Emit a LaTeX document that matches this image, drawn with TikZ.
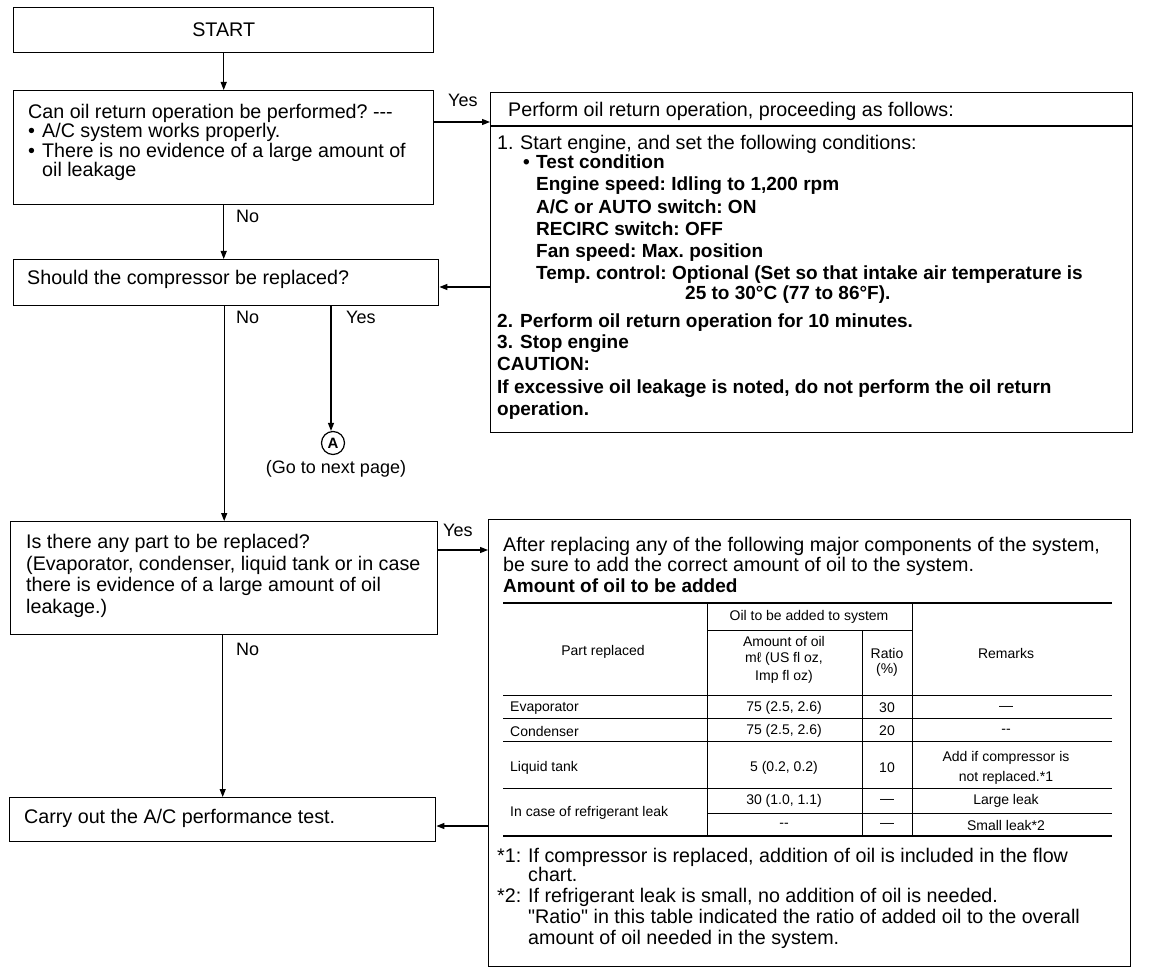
\documentclass[tikz,border=0pt]{standalone}
\usepackage{fontspec}
\setmainfont{Liberation Sans}[Ligatures=TeXOff]
\usetikzlibrary{arrows.meta}
\frenchspacing
\begin{document}
\begin{tikzpicture}[x=1pt,y=-1pt,
  box/.style={draw, line width=1.4pt, inner sep=0pt, anchor=north west},
  tx/.style={anchor=base west, inner sep=0pt, font=\fontsize{19.7}{21}\selectfont},
  tb/.style={anchor=base west, inner sep=0pt, font=\fontsize{19}{21}\selectfont\bfseries},
  tc/.style={anchor=center, inner sep=0pt, font=\fontsize{14}{16}\selectfont},
  tl/.style={anchor=west, inner sep=0pt, font=\fontsize{14}{16}\selectfont},
  lbl/.style={anchor=base west, inner sep=0pt, font=\fontsize{18}{20}\selectfont},
  arr/.style={line width=1.2pt, -{Triangle[length=8pt,width=6pt]}},
  thinrule/.style={line width=0.9pt},
  heavyrule/.style={line width=2.6pt}
]
\fill[white] (0,0) rectangle (1152,976);
\useasboundingbox (0,0) rectangle (1152,976);

% ---------- left column boxes ----------
\node[box, minimum width=420pt, minimum height=45pt] (start) at (13,7) {};
\node[inner sep=0pt, font=\fontsize{19.7}{21}\selectfont] (starttx) at (start.center) {START};

\node[box, minimum width=420pt, minimum height=114pt] (q1) at (13,90) {};
\node[tx] (q1a) at (28,119) {Can oil return operation be performed? ---};
\node[tx] (q1b) at (28,138) {\textbullet};
\node[tx] (q1c) at (42,138) {A/C system works properly.};
\node[tx] (q1d) at (28,158) {\textbullet};
\node[tx] (q1e) at (42,158) {There is no evidence of a large amount of};
\node[tx] (q1f) at (42,177) {oil leakage};

\node[box, minimum width=425pt, minimum height=46pt] (q2) at (13,259) {};
\node[tx] (q2a) at (27,285) {Should the compressor be replaced?};

\node[box, minimum width=427pt, minimum height=113pt] (q3) at (10,521) {};
\node[tx] (q3a) at (26,548) {Is there any part to be replaced?};
\node[tx] (q3b) at (26,570) {(Evaporator, condenser, liquid tank or in case};
\node[tx] (q3c) at (26,591) {there is evidence of a large amount of oil};
\node[tx] (q3d) at (26,613) {leakage.)};

\node[box, minimum width=426pt, minimum height=44pt] (q4) at (9,797) {};
\node[tx] (q4a) at (24,823) {Carry out the A/C performance test.};

\node[draw, circle, line width=1.2pt, minimum size=23pt, inner sep=0pt,
      font=\fontsize{15}{16}\selectfont\bfseries] (acirc) at (333,443) {A};
\node[lbl, anchor=base] (goto) at (336,473) {(Go to next page)};

% ---------- right box 1 ----------
\node[box, minimum width=642pt, minimum height=340pt] (box1) at (490,92) {};
\coordinate (sep1) at (490,126);
\draw[line width=1.2pt] (sep1) -- (sep1 -| box1.east);
\node[tx] (b1h) at (508,117) {Perform oil return operation, proceeding as follows:};
\node[tx] (b1a) at (497,150) {1.};
\node[tx] (b1b) at (520,150) {Start engine, and set the following conditions:};
\node[tb] (b1c) at (523,169) {\textbullet};
\node[tb] (b1d) at (536,169) {Test condition};
\node[tb] (b1e) at (536,191) {Engine speed: Idling to 1,200 rpm};
\node[tb] (b1f) at (536,214) {A/C or AUTO switch: ON};
\node[tb] (b1g) at (536,236) {RECIRC switch: OFF};
\node[tb] (b1h2) at (536,258) {Fan speed: Max. position};
\node[tb] (b1i) at (536,280) {Temp. control: Optional (Set so that intake air temperature is};
\node[tb] (b1j) at (685,300) {25 to 30°C (77 to 86°F).};
\node[tb] (b1k) at (497,328) {2.};
\node[tb] (b1l) at (520,328) {Perform oil return operation for 10 minutes.};
\node[tb] (b1m) at (497,349) {3.};
\node[tb] (b1n) at (520,349) {Stop engine};
\node[tb] (b1o) at (497,371) {CAUTION:};
\node[tb] (b1p) at (497,394) {If excessive oil leakage is noted, do not perform the oil return};
\node[tb] (b1q) at (497,416) {operation.};

% ---------- right box 2 ----------
\node[box, minimum width=642pt, minimum height=447pt] (box2) at (488,519) {};
\node[tx] (b2a) at (503,551) {After replacing any of the following major components of the system,};
\node[tx] (b2b) at (503,571) {be sure to add the correct amount of oil to the system.};
\node[tb] (b2c) at (503,592) {Amount of oil to be added};

% table rules
\draw[heavyrule] (503,603) -- (1112,603);
\draw[heavyrule] (503,836) -- (1112,836);
\draw[thinrule] (503,695) -- (1112,695);
\draw[thinrule] (503,718) -- (1112,718);
\draw[thinrule] (503,741) -- (1112,741);
\draw[thinrule] (503,788) -- (1112,788);
\draw[thinrule] (707,813) -- (1112,813);
\draw[thinrule] (707,630) -- (912,630);
\draw[thinrule] (707,603) -- (707,836);
\draw[thinrule] (912,603) -- (912,836);
\draw[thinrule] (862,630) -- (862,836);

% table text
\node[tc] (th1) at (809,617) {Oil to be added to system};
\node[tc] (th2) at (603,652) {Part replaced};
\node[tc] (th3) at (784,641) {Amount of oil};
\node[tc] (th4) at (784,659) {mℓ (US fl oz,};
\node[tc] (th5) at (784,677) {Imp fl oz)};
\node[tc] (th6) at (887,653) {Ratio};
\node[tc] (th7) at (887,670) {(\%)};
\node[tc] (th8) at (1006,653) {Remarks};

\node[tl] (r1a) at (510,708) {Evaporator};
\node[tc] (r1b) at (784,708) {75 (2.5, 2.6)};
\node[tc] (r1c) at (887,708) {30};
\node[tc] (r1d) at (1006,708) {—};

\node[tl] (r2a) at (510,731) {Condenser};
\node[tc] (r2b) at (784,731) {75 (2.5, 2.6)};
\node[tc] (r2c) at (887,731) {20};
\node[tc] (r2d) at (1006,731) {--};

\node[tl] (r3a) at (510,768) {Liquid tank};
\node[tc] (r3b) at (784,768) {5 (0.2, 0.2)};
\node[tc] (r3c) at (887,768) {10};
\node[tc] (r3d) at (1006,758) {Add if compressor is};
\node[tc] (r3e) at (1006,778) {not replaced.*1};

\node[tl] (r4a) at (510,813) {In case of refrigerant leak};
\node[tc] (r4b) at (784,801) {30 (1.0, 1.1)};
\node[tc] (r4c) at (887,801) {—};
\node[tc] (r4d) at (1006,801) {Large leak};
\node[tc] (r5b) at (784,825) {--};
\node[tc] (r5c) at (887,825) {—};
\node[tc] (r5d) at (1006,825) {Small leak*2};

% footnotes
\node[tx] (f1a) at (497,862) {*1:};
\node[tx] (f1b) at (528,862) {If compressor is replaced, addition of oil is included in the flow};
\node[tx] (f1c) at (528,881) {chart.};
\node[tx] (f2a) at (497,902) {*2:};
\node[tx] (f2b) at (528,902) {If refrigerant leak is small, no addition of oil is needed.};
\node[tx] (f2c) at (528,923) {"Ratio" in this table indicated the ratio of added oil to the overall};
\node[tx] (f2d) at (528,944) {amount of oil needed in the system.};

% ---------- connectors ----------
\coordinate (y1) at (0,122);
\coordinate (y2) at (0,287);
\coordinate (y3) at (0,550);
\coordinate (y4) at (0,826);
\coordinate (xa) at (331,0);

\draw[arr] (start.south) -- (q1.north);
\draw[arr] (q1.east |- y1) -- (box1.west |- y1);
\node[lbl] (yes1) at (448,107) {Yes};
\draw[arr] (q1.south) -- (q1.south |- q2.north);
\node[lbl] (no1) at (236,223) {No};
\draw[arr] (box1.west |- y2) -- (q2.east |- y2);
\draw[arr] (q2.south -| xa) -- (acirc.north -| xa);
\node[lbl] (yes2) at (346,324) {Yes};
\draw[arr] (q2.south -| q3.north) -- (q3.north);
\node[lbl] (no2) at (236,324) {No};
\draw[arr] (q3.east |- y3) -- (box2.west |- y3);
\node[lbl] (yes3) at (443,536) {Yes};
\draw[arr] (q3.south -| q4.north) -- (q4.north);
\node[lbl] (no3) at (236,655) {No};
\draw[arr] (box2.west |- y4) -- (q4.east |- y4);

\end{tikzpicture}
\end{document}
